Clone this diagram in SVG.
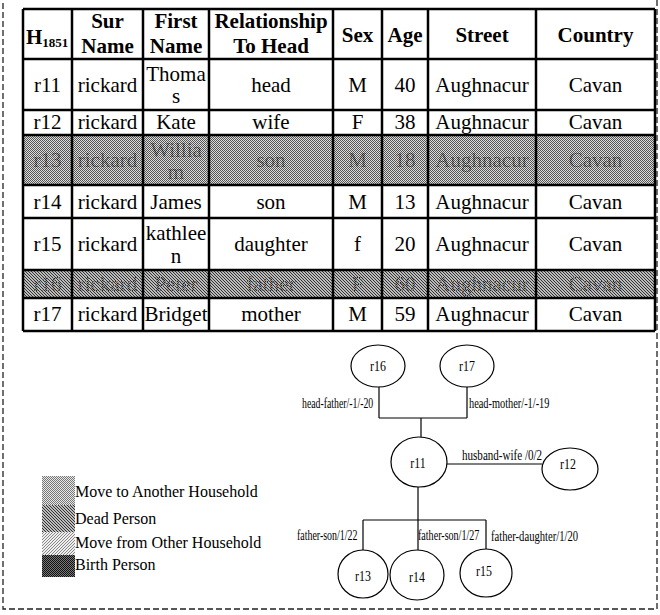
<svg xmlns="http://www.w3.org/2000/svg" width="660" height="615" viewBox="0 0 660 615">
<defs>
<pattern id="chk" width="2" height="2" patternUnits="userSpaceOnUse"><rect width="2" height="2" fill="#dcdcdc"/><rect width="1" height="1" fill="#555"/><rect x="1" y="1" width="1" height="1" fill="#555"/></pattern>
<pattern id="chkTxt" width="2" height="2" patternUnits="userSpaceOnUse"><rect width="2" height="2" fill="#999"/><rect width="1" height="1" fill="#222"/><rect x="1" y="1" width="1" height="1" fill="#222"/></pattern>
<pattern id="chkLight" width="2" height="2" patternUnits="userSpaceOnUse"><rect width="2" height="2" fill="#e8e8e8"/><rect width="1" height="1" fill="#777"/><rect x="1" y="1" width="1" height="1" fill="#777"/></pattern>
<pattern id="chkDark" width="2" height="2" patternUnits="userSpaceOnUse"><rect width="2" height="2" fill="#777"/><rect width="1" height="1" fill="#111"/><rect x="1" y="1" width="1" height="1" fill="#111"/></pattern>
<pattern id="hatchB" width="3" height="3" patternUnits="userSpaceOnUse"><rect width="3" height="3" fill="#bbb"/><path d="M-1,-1 L4,4 M-1,2 L1,4 M2,-1 L4,1" stroke="#333" stroke-width="1"/></pattern>
<pattern id="hatchF" width="3" height="3" patternUnits="userSpaceOnUse"><rect width="3" height="3" fill="#eee"/><path d="M-1,4 L4,-1 M-1,1 L1,-1 M2,4 L4,2" stroke="#888" stroke-width="1"/></pattern>
<style>
.t{font-family:"Liberation Serif","Times New Roman",serif;font-size:21px;text-anchor:middle;fill:#000}
.h{font-weight:bold}
.g{font-family:"Liberation Serif","Times New Roman",serif;font-size:14px;fill:#000}
.c{text-anchor:middle}
.lg{font-family:"Liberation Serif","Times New Roman",serif;font-size:16px;fill:#000}
.node ellipse{fill:#fff;stroke:#000;stroke-width:1.2}
#connectors line{stroke:#000;stroke-width:1.2}
.grid line{stroke:#000;stroke-width:2.5}
</style>
</defs>
<rect width="660" height="615" fill="#fff"/>
<rect x="3" y="-3" width="654" height="612" fill="none" stroke="#222" stroke-width="1.3" stroke-dasharray="6,3"/>

<g id="table">
<rect x="23" y="135" width="632" height="50" fill="url(#chk)"/>
<rect x="23" y="270" width="632" height="28" fill="url(#hatchB)"/>
<g class="grid">
<line x1="23" y1="9" x2="655" y2="9"/>
<line x1="23" y1="59" x2="655" y2="59"/>
<line x1="23" y1="110" x2="655" y2="110"/>
<line x1="23" y1="135" x2="655" y2="135"/>
<line x1="23" y1="185" x2="655" y2="185"/>
<line x1="23" y1="218" x2="655" y2="218"/>
<line x1="23" y1="270" x2="655" y2="270"/>
<line x1="23" y1="298" x2="655" y2="298"/>
<line x1="23" y1="331" x2="655" y2="331"/>
<line x1="23" y1="9" x2="23" y2="331"/>
<line x1="72" y1="9" x2="72" y2="331"/>
<line x1="143" y1="9" x2="143" y2="331"/>
<line x1="209" y1="9" x2="209" y2="331"/>
<line x1="333" y1="9" x2="333" y2="331"/>
<line x1="382" y1="9" x2="382" y2="331"/>
<line x1="428" y1="9" x2="428" y2="331"/>
<line x1="536" y1="9" x2="536" y2="331"/>
<line x1="655" y1="9" x2="655" y2="331"/>
</g>
<g class="t h">
<text x="26" y="44" style="text-anchor:start">H<tspan font-size="13" dy="3">1851</tspan></text>
<text x="107.5" y="28">Sur</text><text x="107.5" y="53">Name</text>
<text x="176" y="28">First</text><text x="176" y="53">Name</text>
<text x="271" y="28">Relationship</text><text x="271" y="53">To Head</text>
<text x="357.5" y="42">Sex</text>
<text x="405" y="42">Age</text>
<text x="482" y="42">Street</text>
<text x="595.5" y="42">Country</text>
</g>
<g class="t">
<text x="47.5" y="92">r11</text><text x="107.5" y="92">rickard</text><text x="176" y="81">Thoma</text><text x="176" y="103">s</text><text x="271" y="92">head</text><text x="357.5" y="92">M</text><text x="405" y="92">40</text><text x="482" y="92">Aughnacur</text><text x="595.5" y="92">Cavan</text>
<text x="47.5" y="129">r12</text><text x="107.5" y="129">rickard</text><text x="176" y="129">Kate</text><text x="271" y="129">wife</text><text x="357.5" y="129">F</text><text x="405" y="129">38</text><text x="482" y="129">Aughnacur</text><text x="595.5" y="129">Cavan</text>
<text x="47.5" y="209">r14</text><text x="107.5" y="209">rickard</text><text x="176" y="209">James</text><text x="271" y="209">son</text><text x="357.5" y="209">M</text><text x="405" y="209">13</text><text x="482" y="209">Aughnacur</text><text x="595.5" y="209">Cavan</text>
<text x="47.5" y="251">r15</text><text x="107.5" y="251">rickard</text><text x="176" y="240">kathlee</text><text x="176" y="263">n</text><text x="271" y="251">daughter</text><text x="357.5" y="251">f</text><text x="405" y="251">20</text><text x="482" y="251">Aughnacur</text><text x="595.5" y="251">Cavan</text>
<text x="47.5" y="321">r17</text><text x="107.5" y="321">rickard</text><text x="176" y="321">Bridget</text><text x="271" y="321">mother</text><text x="357.5" y="321">M</text><text x="405" y="321">59</text><text x="482" y="321">Aughnacur</text><text x="595.5" y="321">Cavan</text>
</g>
<g class="t" style="fill:url(#chkTxt)">
<text x="47.5" y="167">r13</text><text x="107.5" y="167">rickard</text><text x="176" y="157">Willia</text><text x="176" y="179">m</text><text x="271" y="167">son</text><text x="357.5" y="167">M</text><text x="405" y="167">18</text><text x="482" y="167">Aughnacur</text><text x="595.5" y="167">Cavan</text>
<text x="47.5" y="291">r16</text><text x="107.5" y="291">rickard</text><text x="176" y="291">Peter</text><text x="271" y="291">father</text><text x="357.5" y="291">F</text><text x="405" y="291">60</text><text x="482" y="291">Aughnacur</text><text x="595.5" y="291">Cavan</text>
</g>
</g>

<g id="legend">
<rect x="42" y="476" width="33" height="29" fill="url(#chkLight)"/>
<rect x="42" y="505" width="33" height="27" fill="url(#hatchB)"/>
<rect x="42" y="532" width="33" height="23" fill="url(#hatchF)"/>
<rect x="42" y="555" width="33" height="22" fill="url(#chkDark)"/>
<text class="lg" x="75" y="497">Move to Another Household</text>
<text class="lg" x="75" y="524">Dead Person</text>
<text class="lg" x="75" y="548">Move from Other Household</text>
<text class="lg" x="75" y="570">Birth Person</text>
</g>

<g id="connectors">
<line x1="379" y1="387" x2="379" y2="418"/>
<line x1="467" y1="387" x2="467" y2="418"/>
<line x1="379" y1="418" x2="467" y2="418"/>
<line x1="421" y1="418" x2="421" y2="438"/>
<line x1="447" y1="464" x2="542" y2="464"/>
<line x1="418" y1="487" x2="418" y2="550"/>
<line x1="363" y1="520" x2="486" y2="520"/>
<line x1="363" y1="520" x2="363" y2="550"/>
<line x1="486" y1="520" x2="486" y2="549"/>
<text class="g" transform="translate(302,408) scale(0.7,1)">head-father/-1/-20</text>
<text class="g" transform="translate(469,408) scale(0.74,1)">head-mother/-1/-19</text>
<text class="g" transform="translate(462,460) scale(0.79,1)">husband-wife /0/2</text>
<text class="g" transform="translate(297,540) scale(0.71,1)">father-son/1/22</text>
<text class="g" transform="translate(418,540) scale(0.72,1)">father-son/1/27</text>
<text class="g" transform="translate(491,541) scale(0.76,1)">father-daughter/1/20</text>
</g>

<g id="r16" class="node"><ellipse cx="378" cy="366" rx="27" ry="21"/><text class="g c" transform="translate(378,371) scale(0.85,1)">r16</text></g>
<g id="r17" class="node"><ellipse cx="467" cy="366" rx="27" ry="21"/><text class="g c" transform="translate(467,371) scale(0.85,1)">r17</text></g>
<g id="r11" class="node"><ellipse cx="419" cy="462" rx="28" ry="25"/><text class="g c" transform="translate(418,468) scale(0.85,1)">r11</text></g>
<g id="r12" class="node"><ellipse cx="570" cy="469" rx="28" ry="21"/><text class="g c" transform="translate(568,469) scale(0.85,1)">r12</text></g>
<g id="r13" class="node"><ellipse cx="363" cy="574" rx="25" ry="24"/><text class="g c" transform="translate(363,581) scale(0.85,1)">r13</text></g>
<g id="r14" class="node"><ellipse cx="417" cy="575" rx="27" ry="25"/><text class="g c" transform="translate(417,582) scale(0.85,1)">r14</text></g>
<g id="r15" class="node"><ellipse cx="486" cy="573" rx="26" ry="24"/><text class="g c" transform="translate(484,576) scale(0.85,1)">r15</text></g>
</svg>
